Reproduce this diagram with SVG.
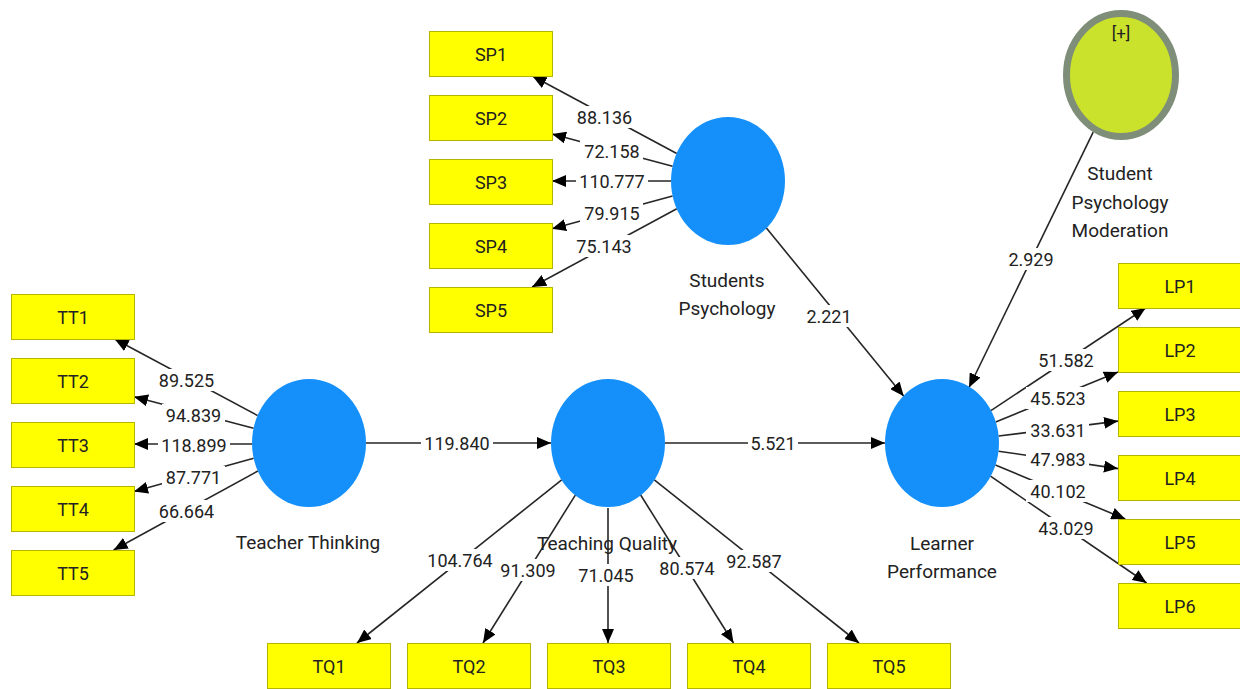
<svg xmlns="http://www.w3.org/2000/svg" width="1240" height="689" viewBox="0 0 1240 689">
<style>
text{font-family:Roboto,"Noto Sans","DejaVu Sans",sans-serif;fill:#222;text-anchor:middle;dominant-baseline:central}
.box rect{fill:#ffff00;stroke:#b5b500;stroke-width:1}
.box text{font-size:18px}
.lv{fill:#1590fa}
.nl{font-size:19px}
.edge{stroke:#262626;stroke-width:1.6;fill:none;marker-end:url(#ah)}
.lab rect{fill:#fff}
.lab text{font-size:18px}
</style>
<defs>
<marker id="ah" markerUnits="userSpaceOnUse" markerWidth="14" markerHeight="12" refX="14" refY="6" orient="auto">
<path d="M0,0 L14,6 L0,12 z" fill="#000"/>
</marker>
</defs>
<rect width="1240" height="689" fill="#fff"/>

<g id="connectors">
<line class="edge" x1="676.7" y1="153.5" x2="532.4" y2="76"/>
<line class="edge" x1="672.6" y1="166.2" x2="552" y2="133.9"/>
<line class="edge" x1="671" y1="181" x2="552" y2="181"/>
<line class="edge" x1="672.6" y1="196" x2="552" y2="228.8"/>
<line class="edge" x1="676.8" y1="208.7" x2="532.1" y2="287"/>

<line class="edge" x1="257.7" y1="415.6" x2="114.6" y2="339"/>
<line class="edge" x1="253.6" y1="428.3" x2="134" y2="396.8"/>
<line class="edge" x1="252" y1="444" x2="134" y2="444"/>
<line class="edge" x1="253.7" y1="458.3" x2="134" y2="491.5"/>
<line class="edge" x1="257.9" y1="471" x2="113.6" y2="550"/>

<line class="edge" x1="366" y1="443" x2="551" y2="443"/>
<line class="edge" x1="665" y1="443" x2="885" y2="443"/>

<line class="edge" x1="561.7" y1="479.8" x2="357" y2="643"/>
<line class="edge" x1="575.5" y1="494.8" x2="483" y2="643"/>
<line class="edge" x1="608" y1="508" x2="608" y2="643"/>
<line class="edge" x1="640.5" y1="494.8" x2="733.5" y2="643"/>
<line class="edge" x1="654.3" y1="479.8" x2="859" y2="643"/>

<line class="edge" x1="990.9" y1="410.6" x2="1145.6" y2="308"/>
<line class="edge" x1="995.7" y1="421.9" x2="1118" y2="372"/>
<line class="edge" x1="998.6" y1="436" x2="1118" y2="421.1"/>
<line class="edge" x1="998.5" y1="451.2" x2="1118" y2="468.6"/>
<line class="edge" x1="995.4" y1="465.1" x2="1125.3" y2="519"/>
<line class="edge" x1="990.5" y1="476.2" x2="1146.6" y2="583"/>

<line class="edge" x1="766.2" y1="227.8" x2="903.8" y2="396.2"/>
<line class="edge" x1="1093.2" y1="132.1" x2="969" y2="387.5"/>
</g>

<g id="connector-labels" class="lab">
<rect x="573" y="106" width="63" height="22"/><text x="604.5" y="117">88.136</text>
<rect x="580" y="140" width="63" height="22"/><text x="612" y="151">72.158</text>
<rect x="576" y="170" width="72" height="22"/><text x="612" y="181">110.777</text>
<rect x="580" y="202" width="63" height="22"/><text x="612" y="213">79.915</text>
<rect x="572" y="235" width="63" height="22"/><text x="604" y="246">75.143</text>

<rect x="155" y="369" width="63" height="22"/><text x="186.5" y="380">89.525</text>
<rect x="162" y="404" width="63" height="22"/><text x="193.5" y="415">94.839</text>
<rect x="158" y="434" width="72" height="22"/><text x="194" y="445">118.899</text>
<rect x="162" y="466" width="63" height="22"/><text x="193.5" y="477">87.771</text>
<rect x="155" y="500" width="63" height="22"/><text x="186.5" y="511">66.664</text>

<rect x="421" y="432" width="72" height="22"/><text x="457" y="443">119.840</text>
<rect x="748" y="432" width="50" height="22"/><text x="773" y="443">5.521</text>

<rect x="424" y="549" width="72" height="22"/><text x="460" y="560">104.764</text>
<rect x="496" y="559" width="63" height="22"/><text x="528" y="570">91.309</text>
<rect x="574" y="564" width="63" height="22"/><text x="606" y="575">71.045</text>
<rect x="655" y="557" width="63" height="22"/><text x="687" y="568">80.574</text>
<rect x="722" y="550" width="63" height="22"/><text x="754" y="561">92.587</text>

<rect x="1034" y="349" width="63" height="22"/><text x="1066" y="360">51.582</text>
<rect x="1026" y="387" width="63" height="22"/><text x="1058" y="398">45.523</text>
<rect x="1026" y="419" width="63" height="22"/><text x="1058" y="430">33.631</text>
<rect x="1026" y="448" width="63" height="22"/><text x="1058" y="459">47.983</text>
<rect x="1026" y="480" width="63" height="22"/><text x="1058" y="491">40.102</text>
<rect x="1034" y="517" width="63" height="22"/><text x="1066" y="528">43.029</text>

<rect x="804" y="305" width="50" height="22"/><text x="829" y="316">2.221</text>
<rect x="1006" y="248" width="50" height="22"/><text x="1031" y="259">2.929</text>
</g>

<g id="SP1" class="box"><rect x="429.5" y="31.5" width="123" height="45"/><text x="491" y="54">SP1</text></g>
<g id="SP2" class="box"><rect x="429.5" y="95.5" width="123" height="45"/><text x="491" y="118">SP2</text></g>
<g id="SP3" class="box"><rect x="429.5" y="159.5" width="123" height="45"/><text x="491" y="182">SP3</text></g>
<g id="SP4" class="box"><rect x="429.5" y="223.5" width="123" height="45"/><text x="491" y="246">SP4</text></g>
<g id="SP5" class="box"><rect x="429.5" y="287.5" width="123" height="45"/><text x="491" y="310">SP5</text></g>

<g id="TT1" class="box"><rect x="11.5" y="294.5" width="123" height="45"/><text x="73" y="317">TT1</text></g>
<g id="TT2" class="box"><rect x="11.5" y="358.5" width="123" height="45"/><text x="73" y="381">TT2</text></g>
<g id="TT3" class="box"><rect x="11.5" y="422.5" width="123" height="45"/><text x="73" y="445">TT3</text></g>
<g id="TT4" class="box"><rect x="11.5" y="486.5" width="123" height="45"/><text x="73" y="509">TT4</text></g>
<g id="TT5" class="box"><rect x="11.5" y="550.5" width="123" height="45"/><text x="73" y="573">TT5</text></g>

<g id="TQ1" class="box"><rect x="267.5" y="643.5" width="123" height="45"/><text x="329" y="666">TQ1</text></g>
<g id="TQ2" class="box"><rect x="407.5" y="643.5" width="123" height="45"/><text x="469" y="666">TQ2</text></g>
<g id="TQ3" class="box"><rect x="547.5" y="643.5" width="123" height="45"/><text x="609" y="666">TQ3</text></g>
<g id="TQ4" class="box"><rect x="687.5" y="643.5" width="123" height="45"/><text x="749" y="666">TQ4</text></g>
<g id="TQ5" class="box"><rect x="827.5" y="643.5" width="123" height="45"/><text x="889" y="666">TQ5</text></g>

<g id="LP1" class="box"><rect x="1118.5" y="263.5" width="123" height="45"/><text x="1180" y="286">LP1</text></g>
<g id="LP2" class="box"><rect x="1118.5" y="327.5" width="123" height="45"/><text x="1180" y="350">LP2</text></g>
<g id="LP3" class="box"><rect x="1118.5" y="391.5" width="123" height="45"/><text x="1180" y="414">LP3</text></g>
<g id="LP4" class="box"><rect x="1118.5" y="455.5" width="123" height="45"/><text x="1180" y="478">LP4</text></g>
<g id="LP5" class="box"><rect x="1118.5" y="519.5" width="123" height="45"/><text x="1180" y="542">LP5</text></g>
<g id="LP6" class="box"><rect x="1118.5" y="583.5" width="123" height="45"/><text x="1180" y="606">LP6</text></g>

<g id="StudentsPsychology">
<ellipse class="lv" cx="728" cy="181" rx="57" ry="64"/>
<text class="nl" x="727" y="280">Students</text>
<text class="nl" x="727" y="308">Psychology</text>
</g>
<g id="TeacherThinking">
<ellipse class="lv" cx="309" cy="443" rx="57" ry="64"/>
<text class="nl" x="308" y="542">Teacher Thinking</text>
</g>
<g id="TeachingQuality">
<ellipse class="lv" cx="608" cy="443" rx="57" ry="64"/>
<text class="nl" x="607" y="543">Teaching Quality</text>
</g>
<g id="LearnerPerformance">
<ellipse class="lv" cx="942" cy="443" rx="57" ry="64"/>
<text class="nl" x="942" y="543">Learner</text>
<text class="nl" x="942" y="571">Performance</text>
</g>
<g id="StudentPsychologyModeration">
<ellipse cx="1121" cy="75" rx="54.5" ry="61.5" fill="#cbe22c" stroke="#7f8e79" stroke-width="7"/>
<text x="1121" y="33" font-size="17">[+]</text>
<text class="nl" x="1120" y="173">Student</text>
<text class="nl" x="1120" y="202">Psychology</text>
<text class="nl" x="1120" y="230">Moderation</text>
</g>
</svg>
